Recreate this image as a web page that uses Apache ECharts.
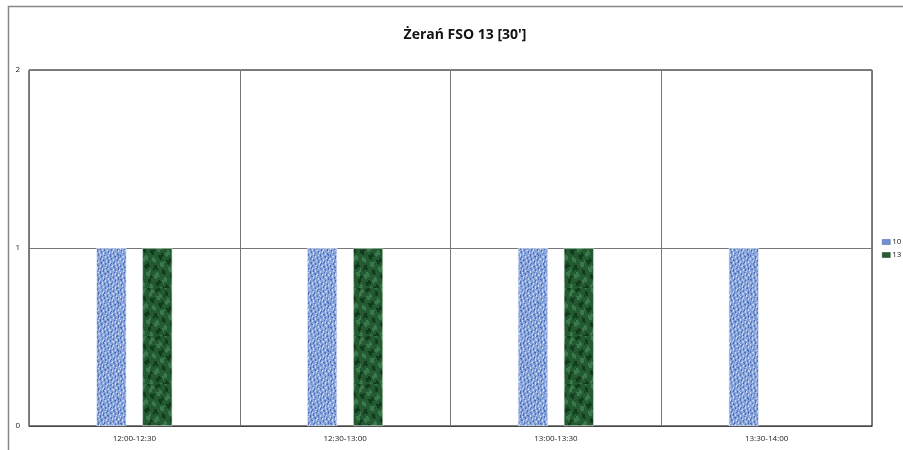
<!DOCTYPE html>
<html><head><meta charset="utf-8">
<script src="https://cdn.jsdelivr.net/npm/echarts@6/dist/echarts.min.js"></script>
<style>html,body{margin:0;padding:0;background:#fff}#c{width:903px;height:450px}</style>
</head><body><div id="c"></div>
<script>
const categories = ['12:00-12:30', '12:30-13:00', '13:00-13:30', '13:30-14:00'];
const series10 = [1, 1, 1, 1];
const series13 = [1, 1, 1, null];
const yTicks = [0, 1, 2];

function texture(base, dark, light, kind) {
  const c = document.createElement('canvas');
  c.width = 30; c.height = 48;
  const g = c.getContext('2d');
  g.fillStyle = base; g.fillRect(0, 0, 30, 48);
  for (let x = 0; x < 30; x++) {
    for (let y = 0; y < 48; y++) {
      let v;
      if (kind === 'blue') {
        v = Math.sin(x * 1.9 + Math.sin(y * 0.55 + x * 0.3) * 1.6) + 0.4 * Math.sin(y * 1.3 + x);
        if (v > 0.85) { g.fillStyle = dark; g.fillRect(x, y, 1, 1); }
        else if (v < -0.9) { g.fillStyle = light; g.fillRect(x, y, 1, 1); }
      } else {
        v = Math.sin(x * 0.6 + y * 0.3) + Math.sin(y * 0.45 - x * 0.25) + 0.5 * Math.sin(x * 1.3 - y * 0.8);
        if (v > 1.0) { g.fillStyle = light; g.fillRect(x, y, 1, 1); }
        else if (v < -1.1) { g.fillStyle = dark; g.fillRect(x, y, 1, 1); }
      }
    }
  }
  return c;
}
const blueTex = texture('#87a4dc', '#4d6db5', '#c8d6f2', 'blue');
const greenTex = texture('#235a32', '#123a1c', '#3a7a4a', 'green');

const chart = echarts.init(document.getElementById('c'), null, {renderer: 'canvas'});
chart.setOption({
  animation: false,
  backgroundColor: '#fff',
  title: {
    text: "Żerań FSO 13 [30']",
    left: 460, top: 23, textAlign: 'center',
    textStyle: {fontFamily: 'Open Sans', fontWeight: 'bold', fontSize: 14, color: '#111'}
  },
  graphic: [
    {type: 'polyline', shape: {points: [[8.5, 450], [8.5, 6.5], [903, 6.5]]}, style: {stroke: '#888', lineWidth: 1.5, fill: null}}
  ],
  legend: {
    orient: 'vertical', left: 882, top: 238, padding: 0, itemWidth: 8, itemHeight: 5, itemGap: 5,
    textStyle: {fontSize: 8, color: '#222', padding: [0, 0, 0, -3], fontFamily: 'Open Sans'},
    data: [
      {name: '10', icon: 'rect', itemStyle: {color: '#6f8fd0', borderColor: '#3f5fa8', borderWidth: 0.5}},
      {name: '13', icon: 'rect', itemStyle: {color: '#245e34', borderColor: '#123a1c', borderWidth: 0.5}}
    ]
  },
  grid: {left: 29, top: 70, right: 31, bottom: 24, show: true, borderColor: '#000', borderWidth: 1},
  xAxis: {
    type: 'category', data: categories,
    axisLine: {lineStyle: {color: '#444'}},
    axisTick: {show: false},
    axisLabel: {fontSize: 8, color: '#222', margin: 9, fontFamily: 'Open Sans'},
    splitLine: {show: true, lineStyle: {color: '#777'}}
  },
  yAxis: {
    type: 'value', min: yTicks[0], max: yTicks[yTicks.length - 1], interval: 1,
    axisLine: {show: true, lineStyle: {color: '#777'}},
    axisTick: {show: false},
    axisLabel: {fontSize: 8, color: '#222', margin: 9, fontFamily: 'Open Sans'},
    splitLine: {show: true, lineStyle: {color: '#777'}}
  },
  series: [
    {name: '10', type: 'bar', data: series10, barWidth: 30, barGap: '53%',
     itemStyle: {color: {image: blueTex, repeat: 'repeat'}, borderColor: '#e8eefa', borderWidth: 0.6}},
    {name: '13', type: 'bar', data: series13, barWidth: 30,
     itemStyle: {color: {image: greenTex, repeat: 'repeat'}, borderColor: '#dfe9df', borderWidth: 0.6}}
  ]
});
</script></body></html>
